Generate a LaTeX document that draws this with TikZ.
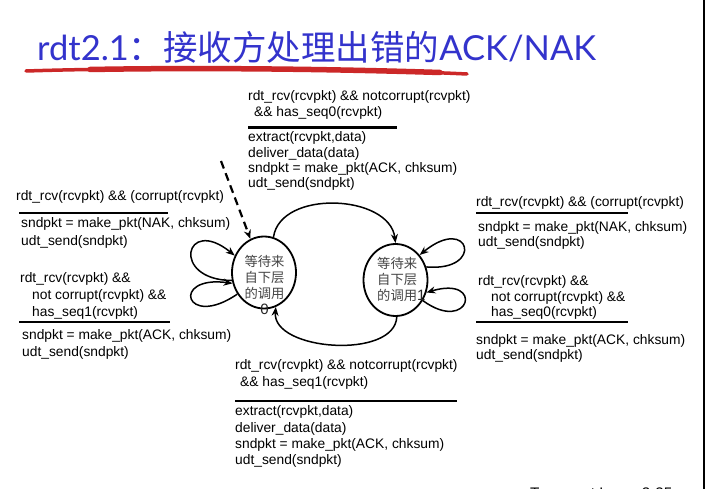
\documentclass[tikz,border=0pt]{standalone}
\usepackage{fontspec}
\setmainfont{Liberation Sans}
\newfontfamily\cjkfont{Noto Sans CJK SC}
\newfontfamily\headfont{Lato}
\usetikzlibrary{arrows.meta,shapes.geometric}
\definecolor{headblue}{HTML}{3333CC}
\definecolor{brushred}{HTML}{CC2828}
\definecolor{stategray}{HTML}{454545}
\tikzset{
  fsmtext/.style={anchor=north west, inner sep=0pt, align=left,
    font=\fontsize{13.8}{#1}\selectfont},
  guardrule/.style={line width=2.8pt},
  state/.style={ellipse, draw, line width=1.8pt, minimum width=64pt,
    minimum height=72pt, inner sep=0pt},
  statetext/.style={inner sep=0pt, text=stategray,
    font=\cjkfont\fontsize{13.3}{16}\selectfont},
  move/.style={line width=1.5pt, -{Stealth[length=9pt,width=7pt]}},
}
\newcommand{\statenum}[1]{{\rmfamily\fontsize{15}{16}\selectfont\color{black!85}#1}}
\begin{document}
\begin{tikzpicture}[x=1pt,y=-1pt]
\useasboundingbox (0,0) rectangle (707,489);
\clip (0,0) rectangle (707,489);
\fill[white] (0,0) rectangle (707,489);

% heading and brush underline
\node[anchor=base west, inner sep=0pt, text=headblue,
  font=\headfont\fontsize{34.5}{40}\selectfont] (title) at (37,61)
  {rdt2.1{\cjkfont ：接收方处理出错的}ACK/NAK};
\draw[brushred, line width=3.5pt, line cap=round]
  (26,71) .. controls (150,67) and (340,68) .. (467,74);
\draw[brushred, line width=5.5pt, line cap=round]
  (90,69.5) .. controls (200,67.5) and (330,69) .. (440,72.5);

% page edge and footer
\draw[line width=2.5pt] (704,0) -- (704,489);
\node[anchor=base west, inner sep=0pt, font=\fontsize{15.3}{18}\selectfont]
  (footer) at (530,498) {Transport Layer 3-35};

% states
\node[state] (L) at (264,272.5) {};
\node[state] (R) at (395.5,280) {};
\node[statetext, align=center] (Ltext) at (264.5,285)
  {等待来\\自下层\\的调用\\\statenum{0}};
\node[statetext, align=left, anchor=west] (Rtext) at (377,279.5)
  {等待来\\自下层\\的调用\statenum{1}};

% initial transition
\coordinate (init) at (221,161);
\draw[line width=2.2pt, dash pattern=on 8pt off 5pt,
  -{Stealth[length=9pt,width=7pt]}] (init) -- (L.112);

% transitions between the states
\draw[move] (L.75) .. controls +(7,-48) and +(-6,-49) .. (R.90);
\draw[move] (R.272) .. controls +(-2,43) and +(-4,44) .. (L.289);

% self loops
\draw[move] (L.194) .. controls (170,280) and (185,215) .. (L.150);
\draw[move] (L.219) .. controls (185,330) and (170,275) .. (L.199);
\draw[move] (R.23) .. controls (485,272) and (470,214) .. (R.46);
\draw[move] (R.323) .. controls (470,335) and (485,275) .. (R.338);

% transition labels: top
\node[fsmtext=16] (topG) at (248,90.5)
  {rdt\_rcv(rcvpkt) \&\& notcorrupt(rcvpkt)\\\hspace*{6pt}\&\& has\_seq0(rcvpkt)};
\draw[guardrule] (248,127.5) -- (397,127.5);
\node[fsmtext=15.4] (topA) at (248,131.5)
  {extract(rcvpkt,data)\\deliver\_data(data)\\sndpkt = make\_pkt(ACK, chksum)\\udt\_send(sndpkt)};

% transition labels: left
\node[fsmtext=17] (leftG1) at (16,190.5) {rdt\_rcv(rcvpkt) \&\& (corrupt(rcvpkt)};
\draw[guardrule] (19,213) -- (168,213);
\node[fsmtext=17.5] (leftA1) at (21,217.5) {sndpkt = make\_pkt(NAK, chksum)\\udt\_send(sndpkt)};
\node[fsmtext=17] (leftG2) at (20,272.5)
  {rdt\_rcv(rcvpkt) \&\&\\\hspace*{12pt}not corrupt(rcvpkt) \&\&\\\hspace*{12pt}has\_seq1(rcvpkt)};
\draw[guardrule] (19,322) -- (170,322);
\node[fsmtext=17] (leftA2) at (22,329.5) {sndpkt = make\_pkt(ACK, chksum)\\udt\_send(sndpkt)};

% transition labels: right
\node[fsmtext=17] (rightG1) at (476,196.5) {rdt\_rcv(rcvpkt) \&\& (corrupt(rcvpkt)};
\draw[guardrule] (476,213) -- (628,213);
\node[fsmtext=15] (rightA1) at (478,221.5) {sndpkt = make\_pkt(NAK, chksum)\\udt\_send(sndpkt)};
\node[fsmtext=15.5] (rightG2) at (478,275.5)
  {rdt\_rcv(rcvpkt) \&\&\\\hspace*{13pt}not corrupt(rcvpkt) \&\&\\\hspace*{13pt}has\_seq0(rcvpkt)};
\draw[guardrule] (476,322) -- (628,322);
\node[fsmtext=14.5] (rightA2) at (476,334.5) {sndpkt = make\_pkt(ACK, chksum)\\udt\_send(sndpkt)};

% transition labels: bottom
\node[fsmtext=17] (botG) at (235,359.5)
  {rdt\_rcv(rcvpkt) \&\& notcorrupt(rcvpkt)\\\hspace*{5pt}\&\& has\_seq1(rcvpkt)};
\draw[guardrule] (235,401) -- (457,401);
\node[fsmtext=16.3] (botA) at (235,405.5)
  {extract(rcvpkt,data)\\deliver\_data(data)\\sndpkt = make\_pkt(ACK, chksum)\\udt\_send(sndpkt)};
\end{tikzpicture}
\end{document}
